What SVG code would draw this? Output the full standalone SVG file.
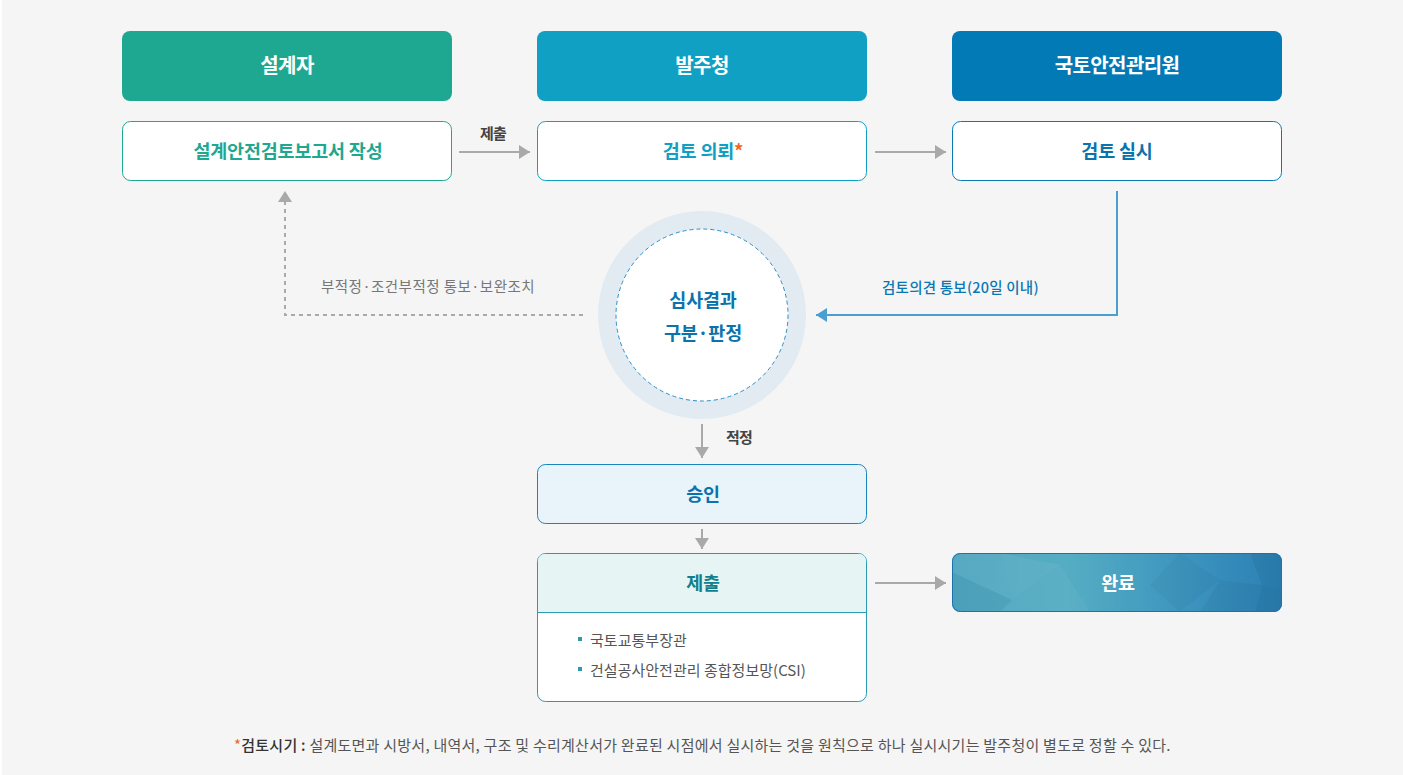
<svg xmlns="http://www.w3.org/2000/svg" width="1403" height="775" viewBox="0 0 1403 775">
<style>
  text { font-family: "Noto Sans CJK KR", "Noto Sans", sans-serif; }
  .hd { font-size: 20px; font-weight: 700; fill: #ffffff; letter-spacing: -0.6px; text-anchor: middle; }
  .st { font-size: 18.5px; font-weight: 700; text-anchor: middle; letter-spacing: -0.2px; }
  .lbl { font-size: 15px; font-weight: 700; fill: #444; letter-spacing: -0.8px; }
  .gray { fill: none; stroke: #a9a9a9; stroke-width: 2; }
  .item { font-size: 15px; fill: #555; letter-spacing: -0.8px; }
</style>
<defs>
  <marker id="ag" markerUnits="userSpaceOnUse" markerWidth="12" markerHeight="14" refX="11" refY="7" orient="auto">
    <path d="M0,0 L11,7 L0,14 z" fill="#a9a9a9"/>
  </marker>
  <marker id="ab" markerUnits="userSpaceOnUse" markerWidth="12" markerHeight="14" refX="11" refY="7" orient="auto">
    <path d="M0,0 L11,7 L0,14 z" fill="#4a9fcf"/>
  </marker>
  <linearGradient id="gDone" x1="0" y1="0" x2="1" y2="0">
    <stop offset="0" stop-color="#4fa5bf"/>
    <stop offset="0.35" stop-color="#55adc3"/>
    <stop offset="0.7" stop-color="#3d95bf"/>
    <stop offset="1" stop-color="#2a80b4"/>
  </linearGradient>
  <clipPath id="cDone"><rect x="952" y="553" width="330" height="59" rx="8"/></clipPath>
</defs>
<rect x="0" y="0" width="1403" height="775" fill="#ffffff"/>
<rect x="2" y="0" width="1401" height="775" fill="#f5f5f5"/>

<g id="connectors">
  <line x1="459" y1="152" x2="530" y2="152" class="gray" marker-end="url(#ag)"/>
  <text x="493" y="139" class="lbl" text-anchor="middle">제출</text>
  <line x1="875" y1="152" x2="946" y2="152" class="gray" marker-end="url(#ag)"/>
  <polyline points="1117,191 1117,315 816,315" fill="none" stroke="#4a9fcf" stroke-width="2" marker-end="url(#ab)"/>
  <text x="882" y="293" font-size="14.5" font-weight="500" fill="#0a78b4" letter-spacing="-0.6" textLength="156" lengthAdjust="spacing">검토의견 통보(20일 이내)</text>
  <polyline points="583,315 285,315 285,191" fill="none" stroke="#aaaaaa" stroke-width="2" stroke-dasharray="4,4" marker-end="url(#ag)"/>
  <text x="321" y="292" font-size="14.5" fill="#777" letter-spacing="-0.6" textLength="213" lengthAdjust="spacing">부적정·조건부적정 통보·보완조치</text>
  <line x1="702" y1="424" x2="702" y2="458" class="gray" marker-end="url(#ag)"/>
  <text x="726" y="443" class="lbl">적정</text>
  <line x1="702" y1="529" x2="702" y2="549" class="gray" marker-end="url(#ag)"/>
  <line x1="875" y1="583" x2="946" y2="583" class="gray" marker-end="url(#ag)"/>
</g>

<g id="node-designer">
  <rect x="122" y="31" width="330" height="70" rx="8" fill="#1fa891"/>
  <text x="287" y="73" class="hd">설계자</text>
</g>
<g id="node-client">
  <rect x="537" y="31" width="330" height="70" rx="8" fill="#10a0c4"/>
  <text x="702" y="73" class="hd">발주청</text>
</g>
<g id="node-kalis">
  <rect x="952" y="31" width="330" height="70" rx="8" fill="#017ab5"/>
  <text x="1117" y="73" class="hd">국토안전관리원</text>
</g>

<g id="node-report">
  <rect x="122.5" y="121.5" width="329" height="59" rx="8" fill="#ffffff" stroke="#1fa891" stroke-width="1"/>
  <text x="288" y="158" class="st" fill="#1fa891">설계안전검토보고서 작성</text>
</g>
<g id="node-request">
  <rect x="537.5" y="121.5" width="329" height="59" rx="8" fill="#ffffff" stroke="#10a0c4" stroke-width="1"/>
  <text x="703" y="158" class="st" fill="#10a0c4">검토 의뢰<tspan fill="#f26522">*</tspan></text>
</g>
<g id="node-review">
  <rect x="952.5" y="121.5" width="329" height="59" rx="8" fill="#ffffff" stroke="#0a7ab5" stroke-width="1"/>
  <text x="1117" y="158" class="st" fill="#0a73ae">검토 실시</text>
</g>

<g id="node-judge">
  <circle cx="702" cy="315" r="104" fill="#e2ebf1"/>
  <circle cx="702" cy="315" r="86" fill="#ffffff" stroke="#2c8fc6" stroke-width="1" stroke-dasharray="4,3"/>
  <text x="703" y="307" class="st" font-size="21" letter-spacing="0" fill="#0a73ae">심사결과</text>
  <text x="703" y="340" class="st" font-size="21" letter-spacing="0" fill="#0a73ae">구분·판정</text>
</g>

<g id="node-approve">
  <rect x="537.5" y="464.5" width="329" height="59" rx="8" fill="#e8f4fa" stroke="#1a85bd" stroke-width="1"/>
  <text x="703" y="501" class="st" fill="#0a73ae">승인</text>
</g>

<g id="node-submit">
  <rect x="537.5" y="553.5" width="329" height="148" rx="8" fill="#ffffff" stroke="#2a9ab0" stroke-width="1"/>
  <path d="M538,612 L538,561.5 Q538,554 545.5,554 L858.5,554 Q866,554 866,561.5 L866,612 z" fill="#e6f4f4"/>
  <line x1="538" y1="612.5" x2="866" y2="612.5" stroke="#2a9ab0" stroke-width="1"/>
  <text x="703" y="590" class="st" fill="#127f8e">제출</text>
  <rect x="578" y="637" width="4" height="4" fill="#2a9ab0"/>
  <text x="590" y="646" class="item" textLength="96" lengthAdjust="spacing">국토교통부장관</text>
  <rect x="578" y="667" width="4" height="4" fill="#2a9ab0"/>
  <text x="590" y="676" class="item" textLength="215" lengthAdjust="spacing">건설공사안전관리 종합정보망(CSI)</text>
</g>

<g id="node-done">
  <rect x="952" y="553" width="330" height="59" rx="8" fill="url(#gDone)"/>
  <g clip-path="url(#cDone)">
    <polygon points="952,553 1000,553 1012,600 952,572" fill="#ffffff" opacity="0.05"/>
    <polygon points="952,572 1012,600 1000,612 952,612" fill="#000000" opacity="0.03"/>
    <polygon points="1000,553 1060,565 1012,600" fill="#ffffff" opacity="0.06"/>
    <polygon points="1012,600 1060,565 1090,612 1000,612" fill="#ffffff" opacity="0.04"/>
    <polygon points="1180,553 1220,580 1180,612 1150,585" fill="#000000" opacity="0.03"/>
    <polygon points="1250,553 1282,553 1282,590 1262,585" fill="#000000" opacity="0.05"/>
    <polygon points="1262,585 1282,590 1282,612 1255,612" fill="#000000" opacity="0.07"/>
    <polygon points="1220,580 1262,585 1255,612 1200,612" fill="#000000" opacity="0.04"/>
  </g>
  <rect x="952.5" y="553.5" width="329" height="58" rx="8" fill="none" stroke="#1a73b0" stroke-width="1"/>
  <text x="1118" y="590" class="st" fill="#ffffff">완료</text>
</g>

<g id="footnote">
  <text x="234" y="751" font-size="15" fill="#555" letter-spacing="-0.5" textLength="936" lengthAdjust="spacing"><tspan fill="#f26522">*</tspan><tspan fill="#333" font-weight="500">검토시기 :</tspan> 설계도면과 시방서, 내역서, 구조 및 수리계산서가 완료된 시점에서 실시하는 것을 원칙으로 하나 실시시기는 발주청이 별도로 정할 수 있다.</text>
</g>
</svg>
